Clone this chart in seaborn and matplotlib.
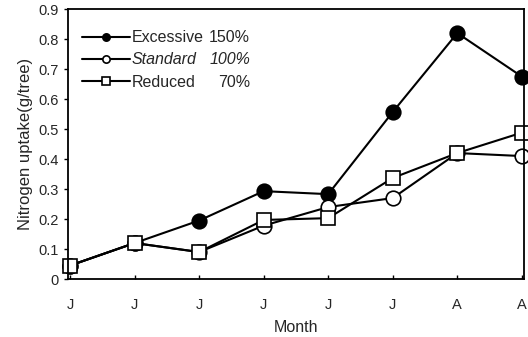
import numpy as np
import pandas as pd
import matplotlib
matplotlib.use("Agg")
import matplotlib.pyplot as plt
import seaborn as sns
from matplotlib.ticker import FuncFormatter

sns.set_theme(style="white")
plt.rcParams['font.family'] = ['Liberation Sans', 'DejaVu Sans']

# data
months = ["J", "J", "J", "J", "J", "J", "A", "A"]
excessive = [0.045, 0.12, 0.195, 0.293, 0.283, 0.557, 0.82, 0.675]
standard = [0.045, 0.12, 0.09, 0.178, 0.24, 0.27, 0.42, 0.41]
reduced = [0.045, 0.12, 0.09, 0.197, 0.203, 0.337, 0.42, 0.488]
names = ["Excessive", "Standard", "Reduced"]
rates = ["150%", "100%", "70%"]

pos = np.arange(len(months))

fig = plt.figure(figsize=(5.28, 3.37), dpi=100)
ax = fig.add_axes([0.129, 0.172, 0.863, 0.801])

series = [(excessive, 'o', 'black'), (standard, 'o', 'white'), (reduced, 's', 'white')]
for (vals, mk, fc), lab in zip(series, names):
    sns.lineplot(x=pos, y=vals, ax=ax, color='black', linewidth=1.5,
                 marker=mk, markersize=10.5, markerfacecolor=fc,
                 markeredgecolor='black', markeredgewidth=1.2,
                 label=lab, clip_on=False)

ax.set_xlim(-0.03, 7.03)
ax.set_ylim(0, 0.9)
ax.set_xticks(pos)
ax.set_xticklabels(months, fontsize=10.5)
ax.set_yticks(np.arange(0, 0.91, 0.1))
ax.yaxis.set_major_formatter(FuncFormatter(lambda v, p: "0" if abs(v) < 1e-9 else f"{v:.1f}"))
ax.tick_params(axis='y', labelsize=10.5, direction='out', length=3, width=1, left=True, color='black')
ax.tick_params(axis='x', direction='in', length=3, width=1, bottom=True, pad=13.5, color='black')

for s in ax.spines.values():
    s.set_color('black')
    s.set_linewidth(1.3)

ax.set_xlabel("Month", fontsize=11.5, labelpad=6)
ax.set_ylabel("Nitrogen uptake(g/tree)", fontsize=12, labelpad=4)

leg = ax.legend(loc='upper left', bbox_to_anchor=(0.0, 0.975), frameon=False,
                fontsize=11.5, handlelength=3.0, handletextpad=0.1,
                labelspacing=0.45, markerscale=0.5)
for t in leg.get_texts():
    if t.get_text() == "Standard":
        t.set_fontstyle('italic')

# right-aligned percentages next to the legend names
fig.canvas.draw()
inv = ax.transAxes.inverted()
x_right = inv.transform((250, 0))[0]
for t, r in zip(leg.get_texts(), rates):
    bb = t.get_window_extent()
    yc = inv.transform((0, (bb.y0 + bb.y1) / 2))[1]
    ax.text(x_right, yc, r, transform=ax.transAxes, ha='right', va='center',
            fontsize=11.5, style='italic' if t.get_text() == "Standard" else 'normal')

fig.savefig("out.png", dpi=100)
